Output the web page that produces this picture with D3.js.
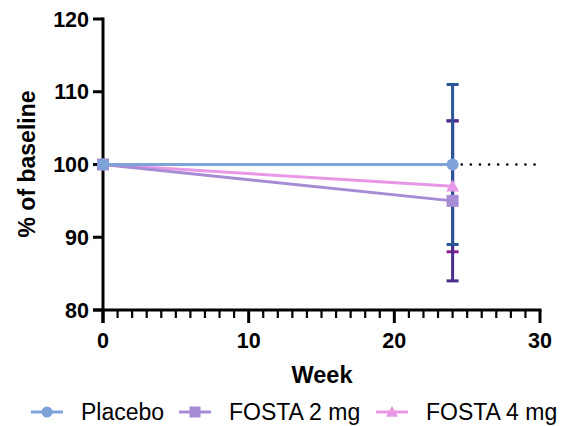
<!DOCTYPE html>
<html>
<head>
<meta charset="utf-8">
<script src="https://cdn.jsdelivr.net/npm/d3@7"></script>
<style>
  html, body { margin: 0; padding: 0; background: #fff; }
  svg { display: block; font-family: "Liberation Sans", Arial, sans-serif; }
</style>
</head>
<body>
<svg id="chart" width="562" height="426"></svg>
<script>
// Data
const weeks = [0, 24];
const seriesNames = ["Placebo", "FOSTA 2 mg", "FOSTA 4 mg"];
const placeboMean = [100, 100];
const fosta2Mean = [100, 95];
const fosta4Mean = [100, 97];
const placeboErr = [0, 11];
const fosta2Err = [0, 11];
const fosta4Err = [0, 9];
const yTicks = [80, 90, 100, 110, 120];
const xTicks = [0, 10, 20, 30];
const refLine = { y: 100, from: 24, to: 30 };

const series = [
  { name: seriesNames[0], mean: placeboMean, err: placeboErr, line: "#7ea3d9", bar: "#2b5596", shape: "circle" },
  { name: seriesNames[1], mean: fosta2Mean, err: fosta2Err, line: "#a68bd5", bar: "#4b2d8c", shape: "square" },
  { name: seriesNames[2], mean: fosta4Mean, err: fosta4Err, line: "#e998e8", bar: "#8e1f8e", shape: "triangle" },
];

const svg = d3.select("#chart");
const x = d3.scaleLinear().domain([0, 30]).range([103, 540]);
const y = d3.scaleLinear().domain([80, 120]).range([310, 19]);

// Axes
const axisColor = "#000";
const yAxis = svg.append("g");
yAxis.append("line")
  .attr("x1", x(0)).attr("x2", x(0))
  .attr("y1", y(120) - 1.5).attr("y2", y(80) + 13)
  .attr("stroke", axisColor).attr("stroke-width", 3);
yTicks.forEach((t) => {
  yAxis.append("line")
    .attr("x1", x(0) - 10).attr("x2", x(0))
    .attr("y1", y(t)).attr("y2", y(t))
    .attr("stroke", axisColor).attr("stroke-width", 3);
  yAxis.append("text")
    .attr("x", x(0) - 14).attr("y", y(t) + 7.5)
    .attr("text-anchor", "end")
    .attr("font-size", 21.5).attr("font-weight", "bold")
    .text(t);
});

const xAxis = svg.append("g");
xAxis.append("line")
  .attr("x1", x(0) - 10).attr("x2", x(30) + 1.5)
  .attr("y1", y(80)).attr("y2", y(80))
  .attr("stroke", axisColor).attr("stroke-width", 3);
d3.range(1, 30).filter((v) => v % 10 !== 0).forEach((v) => {
  xAxis.append("line")
    .attr("x1", x(v)).attr("x2", x(v))
    .attr("y1", y(80)).attr("y2", y(80) + 8)
    .attr("stroke", axisColor).attr("stroke-width", 2.2);
});
xTicks.forEach((t) => {
  xAxis.append("line")
    .attr("x1", x(t)).attr("x2", x(t))
    .attr("y1", y(80)).attr("y2", y(80) + 13)
    .attr("stroke", axisColor).attr("stroke-width", 3);
  xAxis.append("text")
    .attr("x", x(t)).attr("y", 347.5)
    .attr("text-anchor", "middle")
    .attr("font-size", 21.5).attr("font-weight", "bold")
    .text(t);
});

// Axis titles
svg.append("text")
  .attr("transform", `translate(35,164) rotate(-90)`)
  .attr("text-anchor", "middle")
  .attr("font-size", 23).attr("font-weight", "bold")
  .text("% of baseline");
svg.append("text")
  .attr("x", 322).attr("y", 383)
  .attr("text-anchor", "middle")
  .attr("font-size", 23.5).attr("font-weight", "bold")
  .text("Week");

// Dotted reference line
svg.append("line")
  .attr("x1", x(refLine.from)).attr("x2", x(refLine.to) - 2)
  .attr("y1", y(refLine.y)).attr("y2", y(refLine.y))
  .attr("stroke", "#000").attr("stroke-width", 2.6)
  .attr("stroke-dasharray", "0.1 9").attr("stroke-linecap", "round");

const line = d3.line().x((d) => x(d[0])).y((d) => y(d[1]));

function marker(g, shape, cx, cy, color, s) {
  if (shape === "circle") {
    g.append("circle").attr("cx", cx).attr("cy", cy).attr("r", s / 2).attr("fill", color);
  } else if (shape === "square") {
    g.append("rect").attr("x", cx - s / 2).attr("y", cy - s / 2)
      .attr("width", s).attr("height", s).attr("fill", color);
  } else {
    const h = s * 0.95;
    g.append("path")
      .attr("d", `M${cx},${cy - h * 0.6}L${cx + s / 2 + 0.5},${cy + h * 0.45}L${cx - s / 2 - 0.5},${cy + h * 0.45}Z`)
      .attr("fill", color);
  }
}

// Lines (drawn back to front: 4 mg, 2 mg, placebo)
const plot = svg.append("g");
[2, 1, 0].forEach((i) => {
  const s = series[i];
  plot.append("path")
    .datum(weeks.map((w, j) => [w, s.mean[j]]))
    .attr("d", line)
    .attr("fill", "none")
    .attr("stroke", s.line)
    .attr("stroke-width", 3);
});

// Error bars
const capW = 12;
[2, 1, 0].forEach((i) => {
  const s = series[i];
  weeks.forEach((w, j) => {
    if (!s.err[j]) return;
    const lo = y(s.mean[j] - s.err[j]);
    const hi = y(s.mean[j] + s.err[j]);
    plot.append("line")
      .attr("x1", x(w)).attr("x2", x(w)).attr("y1", hi).attr("y2", lo)
      .attr("stroke", s.bar).attr("stroke-width", 3);
    [lo, hi].forEach((yy) => {
      plot.append("line")
        .attr("x1", x(w) - capW / 2).attr("x2", x(w) + capW / 2)
        .attr("y1", yy).attr("y2", yy)
        .attr("stroke", s.bar).attr("stroke-width", 3);
    });
  });
});

// Markers
[2, 1, 0].forEach((i) => {
  const s = series[i];
  weeks.forEach((w, j) => {
    marker(plot, s.shape, x(w), y(s.mean[j]), s.line, 12);
  });
});

// Legend
const legend = svg.append("g");
const legX = [31, 179, 376];
series.forEach((s, i) => {
  const lx = legX[i];
  const ly = 412;
  legend.append("line")
    .attr("x1", lx).attr("x2", lx + 32)
    .attr("y1", ly).attr("y2", ly)
    .attr("stroke", s.line).attr("stroke-width", 3);
  marker(legend, s.shape, lx + 16, ly, s.line, 11);
  legend.append("text")
    .attr("x", lx + 50).attr("y", 419.5)
    .attr("font-size", 23)
    .attr("fill", "#000")
    .text(s.name);
});
</script>
</body>
</html>
